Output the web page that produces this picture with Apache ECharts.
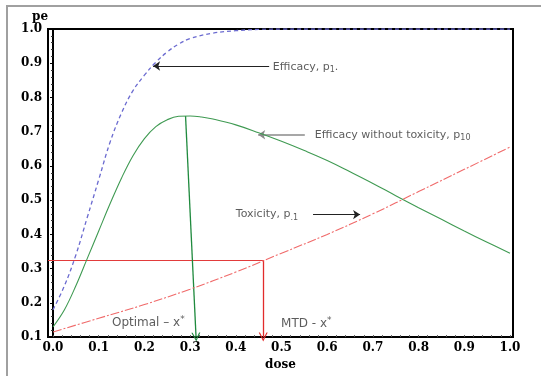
<!DOCTYPE html>
<html>
<head>
<meta charset="utf-8">
<script src="https://cdn.jsdelivr.net/npm/echarts@6/dist/echarts.min.js"></script>
<style>
  html, body { margin: 0; padding: 0; background: #fff; }
  #chart-container { width: 541px; height: 376px; }
</style>
</head>
<body>
<div id="chart-container"></div>
<script>
var dom = document.getElementById("chart-container");
var myChart = echarts.init(dom, null, { renderer: "canvas" });

// curves: [dose, pe]
var efficacy = [
  [0, 0.18], [0.025, 0.25], [0.05, 0.34], [0.075, 0.45], [0.1, 0.56],
  [0.125, 0.67], [0.15, 0.755], [0.175, 0.82], [0.2, 0.865], [0.225, 0.903],
  [0.25, 0.933], [0.275, 0.956], [0.3, 0.972], [0.35, 0.988], [0.4, 0.995],
  [0.45, 0.999], [0.5, 1.0], [0.6, 1.0], [0.7, 1.0], [0.8, 1.0], [0.9, 1.0], [1.0, 1.0]
];
var effNoTox = [
  [0, 0.13], [0.025, 0.18], [0.05, 0.25], [0.075, 0.33], [0.1, 0.41],
  [0.125, 0.49], [0.15, 0.565], [0.175, 0.63], [0.2, 0.68], [0.225, 0.715],
  [0.25, 0.735], [0.275, 0.745], [0.3, 0.746], [0.325, 0.743], [0.35, 0.737],
  [0.4, 0.72], [0.45, 0.697], [0.5, 0.672], [0.55, 0.645], [0.6, 0.616],
  [0.65, 0.583], [0.7, 0.549], [0.75, 0.513], [0.8, 0.478], [0.85, 0.444],
  [0.9, 0.41], [0.95, 0.377], [1.0, 0.345]
];
var toxicity = [
  [0, 0.115], [0.1, 0.155], [0.2, 0.195], [0.3, 0.24], [0.4, 0.29],
  [0.5, 0.345], [0.6, 0.4], [0.7, 0.46], [0.8, 0.525],
  [0.9, 0.59], [1.0, 0.655]
];

var doseTicks = [0, 0.1, 0.2, 0.3, 0.4, 0.5, 0.6, 0.7, 0.8, 0.9, 1.0];
var doseMinor = [];
for (var i = 0; i <= 50; i++) doseMinor.push(i * 0.02);

// annotation arrows [[x1,y1],[x2,y2]]
var blackArrows = [
  [[0.473, 0.892], [0.219, 0.892]],
  [[0.569, 0.458], [0.672, 0.458]]
];
var grayArrow = [[0.551, 0.691], [0.449, 0.691]];
var optimalArrow = [[0.29, 0.746], [0.313, 0.1]];
var mtdArrow = [[0.46, 0.325], [0.46, 0.1]];
var mtdLevel = [[-0.011, 0.325], [0.46, 0.325]];

// text notes [dose, pe, text]
var notes = [
  [0.481, 0.89, "Efficacy, p{sub|1}."],
  [0.573, 0.69, "Efficacy without toxicity, p{sub|10}"],
  [0.40, 0.458, "Toxicity, p{sub|.1}"],
  [0.129, 0.143, "Optimal \u2013 x{sup|*}"],
  [0.499, 0.14, "MTD - x{sup|*}"]
];

var axisFont = { fontFamily: "DejaVu Serif", fontWeight: "bold", fontSize: 12, color: "#000" };
var chevron = "path://M0,10L5,0L10,10L8.6,10L5,2.8L1.4,10Z";

var option = {
  animation: false,
  graphic: [{
    type: "rect",
    shape: { x: 7, y: 6, width: 600, height: 400 },
    style: { fill: "none", stroke: "#a0a0a0", lineWidth: 2 },
    silent: true
  }],
  grid: {
    left: 48, right: 28, top: 29, bottom: 33,
    show: true, borderColor: "#000", borderWidth: 2
  },
  xAxis: {
    type: "value",
    min: -0.011, max: 1.0066,
    name: "dose",
    nameLocation: "middle",
    nameGap: 21,
    nameTextStyle: axisFont,
    axisLine: { lineStyle: { color: "#000", width: 2 } },
    axisTick: { show: true, inside: true, length: 2, customValues: doseMinor, lineStyle: { color: "#555" } },
    axisLabel: {
      customValues: doseTicks,
      margin: 5,
      fontFamily: axisFont.fontFamily, fontWeight: "bold", fontSize: 12, color: "#000",
      formatter: function (v) { return v.toFixed(1); }
    },
    splitLine: { show: false }
  },
  yAxis: {
    type: "value",
    min: 0.1, max: 1.0, interval: 0.1,
    name: "pe",
    nameLocation: "end",
    nameGap: 6,
    nameTextStyle: { fontFamily: "DejaVu Serif", fontWeight: "bold", fontSize: 12, color: "#000", align: "right", padding: [0, 5, 0, 0] },
    axisLine: { show: true, lineStyle: { color: "#000", width: 2 } },
    axisTick: { show: true, length: 3, lineStyle: { color: "#000" } },
    minorTick: { show: true, splitNumber: 5, length: 2, lineStyle: { color: "#333" } },
    axisLabel: {
      margin: 6,
      fontFamily: axisFont.fontFamily, fontWeight: "bold", fontSize: 12, color: "#000",
      formatter: function (v) { return v.toFixed(1); }
    },
    splitLine: { show: false }
  },
  series: [
    {
      type: "line", data: efficacy, smooth: 0.4, symbol: "none",
      lineStyle: { color: "#6b6bd0", width: 1.3, type: [4, 3] }
    },
    {
      type: "line", data: effNoTox, smooth: 0.4, symbol: "none",
      lineStyle: { color: "#3f9a52", width: 1.1 }
    },
    {
      type: "line", data: toxicity, smooth: 0.4, symbol: "none",
      lineStyle: { color: "#f06a6a", width: 1.1, type: [9, 2, 2, 2] }
    },
    {
      type: "lines", coordinateSystem: "cartesian2d", clip: false,
      symbol: "none",
      lineStyle: { color: "#e23b3b", width: 1, opacity: 1, curveness: 0 },
      data: [{ coords: mtdLevel }]
    },
    {
      type: "lines", coordinateSystem: "cartesian2d", clip: false,
      symbol: ["none", "arrow"], symbolSize: [0, 7],
      lineStyle: { color: "#222", width: 1, opacity: 1, curveness: 0 },
      data: blackArrows.map(function (c) { return { coords: c }; })
    },
    {
      type: "lines", coordinateSystem: "cartesian2d", clip: false,
      symbol: ["none", "arrow"], symbolSize: [0, 7],
      lineStyle: { color: "#8a8a8a", width: 1.5, opacity: 1, curveness: 0 },
      data: [{ coords: grayArrow }]
    },
    {
      type: "lines", coordinateSystem: "cartesian2d", clip: false,
      symbol: ["none", chevron], symbolSize: [0, 9],
      lineStyle: { width: 1.3, opacity: 1, curveness: 0 },
      data: [
        { coords: optimalArrow, lineStyle: { color: "#1f8a3e" } },
        { coords: mtdArrow, lineStyle: { color: "#e22b2b" } }
      ]
    },
    {
      type: "scatter", symbolSize: 0, silent: true,
      data: notes.map(function (n, k) {
        return {
          value: [n[0], n[1]],
          label: {
            show: true, position: "right", distance: 0,
            formatter: n[2],
            fontFamily: "DejaVu Sans",
            fontSize: k >= 3 ? 12 : 11,
            lineHeight: 14,
            color: "#333",
            rich: {
              sub: { fontSize: 8, lineHeight: 8, verticalAlign: "bottom", color: "#333", fontFamily: "DejaVu Sans" },
              sup: { fontSize: 9, lineHeight: 8, verticalAlign: "top", color: "#333", fontFamily: "DejaVu Sans" }
            }
          }
        };
      })
    }
  ]
};

myChart.setOption(option);

window.addEventListener("resize", function () {
  myChart.resize();
});
</script>
</body>
</html>
